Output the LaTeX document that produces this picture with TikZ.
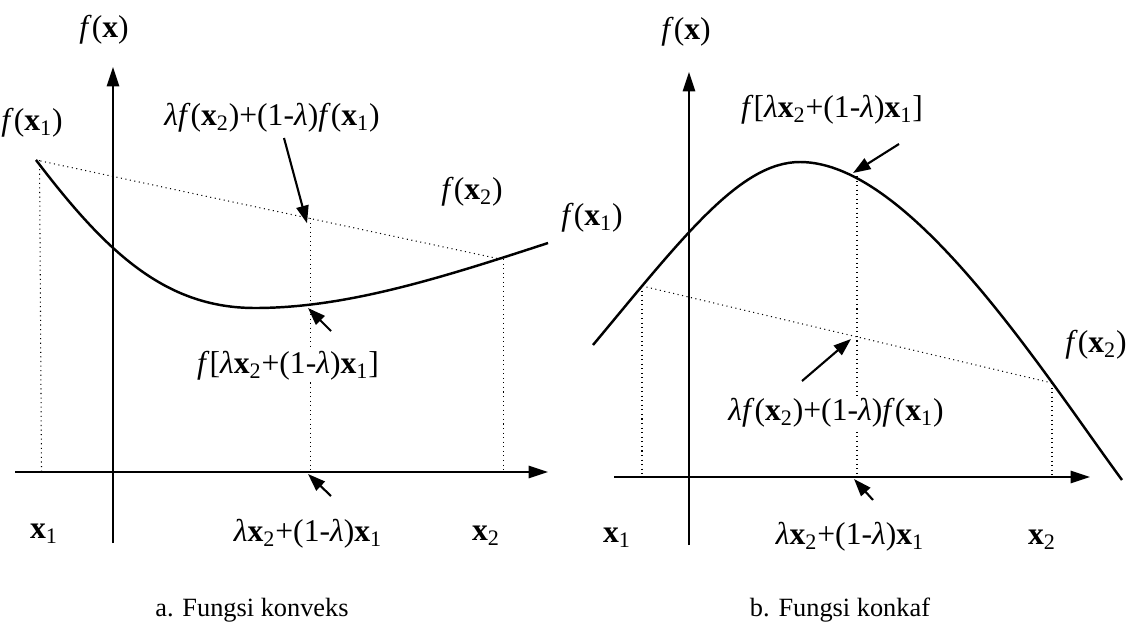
\documentclass[tikz,border=0pt]{standalone}
\usepackage{fontspec}
\setmainfont{Liberation Serif}
\usetikzlibrary{arrows.meta}
\newcommand{\bx}[1]{\textbf{x}\textsubscript{#1}}
\newcommand{\fx}[1]{\textit{f}(\bx{#1})}
\newcommand{\lam}{\textit{λ}}
\begin{document}
\begin{tikzpicture}[x=0.02cm, y=-0.02cm, every node/.style={font=\fontsize{18}{21}\selectfont, inner sep=1pt},
  axis/.style={line width=0.9pt, -{Triangle[length=11pt,width=7pt]}},
  curve/.style={line width=1.4pt},
  guide/.style={line width=0.6pt, dotted},
  pointer/.style={line width=1.2pt, -{Triangle[length=10pt,width=7pt]}},
  caption/.style={font=\fontsize{15}{18}\selectfont}]
\useasboundingbox (0,0) rectangle (1132,629);
% Left panel: convex function
\coordinate (ap1) at (36,160);
\coordinate (ap2) at (500,259);
\coordinate (achord) at (307,218);
\coordinate (acurve) at (307,305);
\coordinate (aaxis) at (307,472);
\draw[axis] (113,543) -- (113,67);
\draw[axis] (15,472) -- (548,472);
\draw[guide] (ap1) -- (ap2);
\foreach \p/\q in {ap1/38,achord/307,ap2/500} \draw[guide] ([xshift=2]\p) -- ([xshift=2]\q,472);
\draw[curve] (ap1) .. controls (106,252) and (165,308) .. (255,308) .. controls (345,308) and (438,279) .. (548,243);
\node (afx) at (104,30) {\textit{f}(\textbf{x})};
\node (afx1) at (32,123) {\fx{1}};
\node (afx2) at (472,192) {\fx{2}};
\node (achordlbl) at (272,118) {\lam\fx{2}+(1-\lam)\fx{1}};
\node[fill=white] (acurvelbl) at (288,366) {\textit{f}[\lam\bx{2}+(1-\lam)\bx{1}]};
\node (aaxislbl) at (308,534) {\lam\bx{2}+(1-\lam)\bx{1}};
\node (ax1) at (44,534) {\bx{1}};
\node (ax2) at (486,536) {\bx{2}};
\node[caption] (acap) at (252,610) {a. Fungsi konveks};
% Pointers
\coordinate (at1) at (284,138);
\coordinate (at2) at (331,331);
\coordinate (at3) at (331,496);
\draw[pointer] (at1) -- ([yshift=-3pt]achord);
\draw[pointer] (at2) -- ([shift={(1,3)}]acurve);
\draw[pointer] (at3) -- ([shift={(1,2)}]aaxis);
% Right panel: concave function
\coordinate (bp1) at (642,286);
\coordinate (bp2) at (1052,383);
\coordinate (bchord) at (857,337);
\coordinate (bcurve) at (857,176);
\coordinate (baxis) at (857,477);
\draw[axis] (689,545) -- (689,72);
\draw[axis] (614,477) -- (1090,477);
\draw[guide] (bp1) -- (bp2);
\foreach \p/\q in {bp1/642,bcurve/857,bp2/1052} \draw[guide] (\p) -- (\q,477);
\draw[curve] (593,345) .. controls (683,237) and (740,162) .. (800,162) .. controls (910,162) and (1042,371) .. (1122,480);
\node (bfx) at (686,32) {\textit{f}(\textbf{x})};
\node (bfx1) at (592,218) {\fx{1}};
\node (bfx2) at (1096,345) {\fx{2}};
\node (bcurvelbl) at (832,110) {\textit{f}[\lam\bx{2}+(1-\lam)\bx{1}]};
\node[fill=white] (bchordlbl) at (836,413) {\lam\fx{2}+(1-\lam)\fx{1}};
\node (baxislbl) at (850,537) {\lam\bx{2}+(1-\lam)\bx{1}};
\node (bx1) at (617,538) {\bx{1}};
\node (bx2) at (1042,540) {\bx{2}};
\node[caption] (bcap) at (840,610) {b. Fungsi konkaf};
% Pointers
\coordinate (bt1) at (899,144);
\coordinate (bt2) at (802,381);
\coordinate (bt3) at (873,500);
\draw[pointer] (bt1) -- ([shift={(-4,-3)}]bcurve);
\draw[pointer] (bt2) -- ([shift={(-6,2)}]bchord);
\draw[pointer] (bt3) -- ([shift={(-3,2)}]baxis);
\end{tikzpicture}
\end{document}
